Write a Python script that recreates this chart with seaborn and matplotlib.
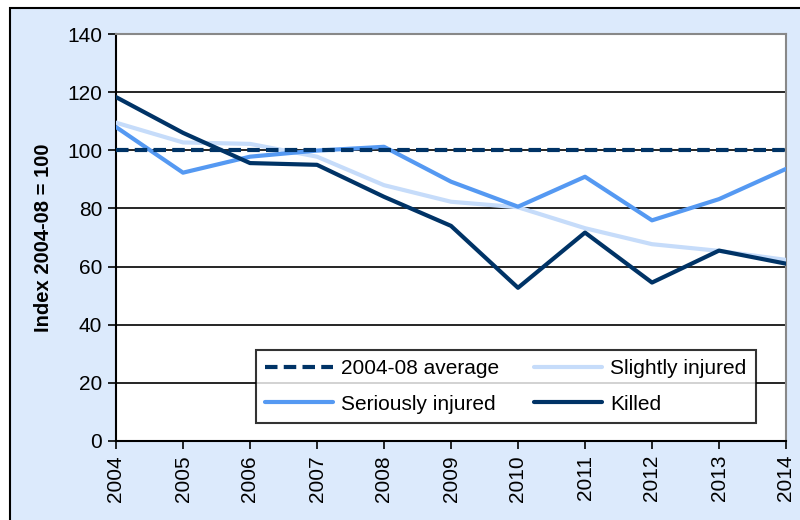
import pandas as pd
import numpy as np
import matplotlib.pyplot as plt
import matplotlib.patches as patches
import seaborn as sns

years = [2004, 2005, 2006, 2007, 2008, 2009, 2010, 2011, 2012, 2013, 2014]
average = [100, 100, 100, 100, 100, 100, 100, 100, 100, 100, 100]
slightly = [109.5, 102.7, 102.2, 97.8, 88.0, 82.3, 80.4, 73.2, 67.7, 65.4, 62.3]
seriously = [108.0, 92.3, 97.8, 99.9, 101.2, 89.2, 80.6, 90.9, 75.9, 83.2, 93.6]
killed = [118.3, 106.0, 95.6, 95.0, 84.0, 74.0, 52.7, 71.7, 54.5, 65.5, 61.0]

df = pd.DataFrame({
    'year': years * 3,
    'index': slightly + seriously + killed,
    'series': ['Slightly injured'] * 11 + ['Seriously injured'] * 11 + ['Killed'] * 11,
})
colors = {'Slightly injured': '#C6DCFA', 'Seriously injured': '#5599F2', 'Killed': '#003366'}

sns.set_style("white")
plt.rcParams['font.family'] = ['Liberation Sans', 'DejaVu Sans']
plt.rcParams['text.color'] = 'black'
plt.rcParams['axes.labelcolor'] = 'black'
plt.rcParams['xtick.color'] = 'black'
plt.rcParams['ytick.color'] = 'black'

fig = plt.figure(figsize=(8, 5.2), dpi=100)
fig.patch.set_facecolor('white')
# light blue chart area with black border (runs off the right and bottom edges)
fig.patches.append(patches.Rectangle((10 / 800, -0.1), 1.2, 0.1 + (520 - 8) / 520, transform=fig.transFigure,
                                     facecolor='#DCEAFC', edgecolor='black', linewidth=1.5, zorder=-1))
ax = fig.add_axes([116 / 800, 79 / 520, 670 / 800, 407 / 520])
ax.set_zorder(1)
ax.set_facecolor('white')

for y in range(20, 140, 20):
    ax.axhline(y, color='black', linewidth=1.2, zorder=1)

sns.lineplot(data=df, x='year', y='index', hue='series', palette=colors, linewidth=3,
             ax=ax, legend=False, zorder=3)
sns.lineplot(x=years, y=average, color='#003366', linewidth=3, linestyle=(0, (3, 1.5)), ax=ax, zorder=4)

lines = ax.get_lines()
handles = {}
for ln in lines:
    c = ln.get_color()
    for name, col in colors.items():
        if ln.get_linestyle() == '-' and isinstance(c, str) and c.upper() == col.upper():
            handles[name] = ln
handles['avg'] = lines[-1]

ax.set_xlim(2004, 2014)
ax.set_ylim(0, 140)
ax.set_xticks(years)
ax.set_xticklabels([str(y) for y in years], rotation=90, fontsize=15)
ax.set_yticks(range(0, 141, 20))
ax.tick_params(axis='y', labelsize=15, direction='out', length=6, width=1.2, left=True, pad=4)
ax.tick_params(axis='x', direction='out', length=6, width=1.2, bottom=True, pad=4)
ax.set_xlabel('')
ax.set_ylabel('Index 2004-08 = 100', fontsize=14.5, fontweight='bold', labelpad=10)

for s in ['left', 'bottom']:
    ax.spines[s].set_color('black')
    ax.spines[s].set_linewidth(1.5)
for s in ['top', 'right']:
    ax.spines[s].set_color('#888888')
    ax.spines[s].set_linewidth(1.5)

leg = ax.legend([handles['avg'], handles['Seriously injured'], handles['Slightly injured'], handles['Killed']],
                ['2004-08 average', 'Seriously injured', 'Slightly injured', 'Killed'],
                ncol=2, loc='lower left', bbox_to_anchor=(0.209, 0.044, 0.746, 0.18), mode='expand',
                borderaxespad=0, fontsize=15, frameon=True, fancybox=False, handlelength=3.25,
                handletextpad=0.4, borderpad=0.45, labelspacing=0.8, columnspacing=1.0)
leg.get_frame().set_edgecolor('black')
leg.get_frame().set_linewidth(1.5)
leg.set_zorder(5)

fig.savefig('out.png', dpi=100, facecolor=fig.get_facecolor())
